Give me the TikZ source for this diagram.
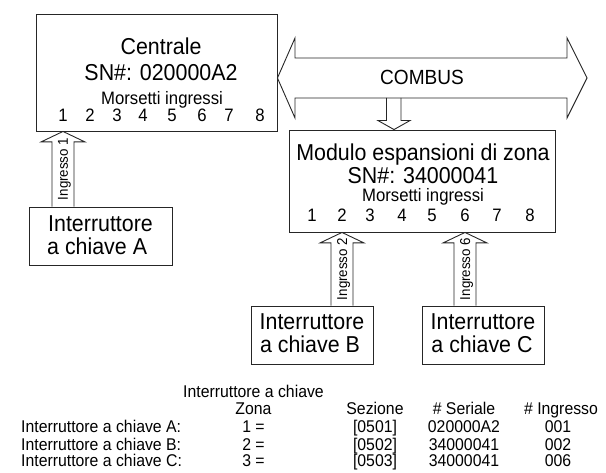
\documentclass[tikz,border=0pt]{standalone}
\usepackage{fontspec}
\setmainfont[FakeStretch=0.93]{Liberation Sans}
\usetikzlibrary{calc}
\newcommand\FBig{\fontsize{23}{25}\selectfont}
\newcommand\FBus{\fontsize{20.5}{22}\selectfont}
\newcommand\FMor{\fontsize{18}{20}\selectfont}
\newcommand\FIng{\fontsize{14.3}{16}\selectfont}
\newcommand\FTab{\fontsize{17}{19}\selectfont}
\newcommand\InArrow[2]{\draw[blk] let \p1=(#1), \p2=(#2) in
  (\x1-11pt,\y2) -- (\x1-11pt,\y1-10.5pt) -- (\x1-22pt,\y1-10.5pt) -- (\x1,\y1)
  -- (\x1+22pt,\y1-10.5pt) -- (\x1+11pt,\y1-10.5pt) -- (\x1+11pt,\y2);}
\begin{document}
\begin{tikzpicture}[x=1pt,y=-1pt,
  box/.style={draw=black!85, line width=0.9pt, rectangle, inner sep=0pt},
  blk/.style={draw=black!85, line width=0.9pt, line join=miter},
  txt/.style={anchor=base, inner sep=0pt, text=black},
  txtw/.style={anchor=base west, inner sep=0pt, text=black}]
\useasboundingbox (0,0) rectangle (606,473);

% boxes
\node[box, minimum width=241pt, minimum height=117pt] (cen) at (156.5,72.5) {};
\node[box, minimum width=266pt, minimum height=102pt] (mod) at (422,181) {};
\node[box, minimum width=143pt, minimum height=58pt] (kA) at (100.5,236) {};
\node[box, minimum width=122pt, minimum height=58pt] (kB) at (312,335) {};
\node[box, minimum width=122pt, minimum height=58pt] (kC) at (483,335) {};

% Centrale text
\node[txt,font=\FBig] (cen1) at (161,55) {Centrale};
\node[txt,font=\FBig] (cen2) at (161,81) {SN\#: 020000A2};
\node[txt,font=\FMor] (cen3) at (162,105) {Morsetti ingressi};
\foreach \x [count=\i] in {63,90,117,143,172,202,229,260}
  \node[txt,font=\FMor] (c\i) at (\x,122) {\i};

% Modulo text
\node[txt,font=\FBig] (mod1) at (423,161) {Modulo espansioni di zona};
\node[txt,font=\FBig] (mod2) at (423,184) {SN\#: 34000041};
\node[txt,font=\FMor] (mod3) at (423,202) {Morsetti ingressi};
\foreach \x [count=\i] in {312,342,370,402,432,465,497,530}
  \node[txt,font=\FMor] (m\i) at (\x,222) {\i};

% key switch texts
\node[txtw,font=\FBig] (kA1) at (48,232) {Interruttore};
\node[txtw,font=\FBig] (kA2) at (47,255) {a chiave A};
\node[txt,font=\FBig] (kB1) at (312,330) {Interruttore};
\node[txt,font=\FBig] (kB2) at (310,353) {a chiave B};
\node[txt,font=\FBig] (kC1) at (483,330) {Interruttore};
\node[txt,font=\FBig] (kC2) at (482,353) {a chiave C};

% input arrows
\coordinate (a1t) at (c1 |- cen.south);
\coordinate (a1b) at (c1 |- kA.north);
\coordinate (a2t) at (m2 |- mod.south);
\coordinate (a2b) at (m2 |- kB.north);
\coordinate (a6t) at (m6 |- mod.south);
\coordinate (a6b) at (m6 |- kC.north);
\InArrow{a1t}{a1b}
\InArrow{a2t}{a2b}
\InArrow{a6t}{a6b}
\node[rotate=90,font=\FIng,inner sep=0pt,text=black] (g1) at ($(a1t)!0.5!(a1b)+(1.5,0)$) {Ingresso 1};
\node[rotate=90,font=\FIng,inner sep=0pt,text=black] (g2) at ($(a2t)!0.5!(a2b)+(1.5,0)$) {Ingresso 2};
\node[rotate=90,font=\FIng,inner sep=0pt,text=black] (g6) at ($(a6t)!0.5!(a6b)+(1.5,0)$) {Ingresso 6};

% COMBUS double arrow
\coordinate (ymid) at (0,78);
\coordinate (busL) at (cen.east |- ymid);
\coordinate (busR) at (587,78);
\draw[blk] (busL) -- (295,38) -- (295,58) -- (567,58) -- (567,38) -- (busR)
  -- (567,118) -- (567,98) -- (295,98) -- (295,118) -- cycle;
\node[txt,font=\FBus] (bus) at (422,85) {COMBUS};

% COMBUS to module
\coordinate (db) at (394,98);
\coordinate (dt) at (db |- mod.north);
\draw[blk] let \p1=(dt), \p2=(db) in
  (\x1-7.5pt,\y2) -- (\x1-7.5pt,\y1+9pt) -- (\x1-16pt,\y1+9pt) -- (\x1,\y1)
  -- (\x1+16pt,\y1+9pt) -- (\x1+7pt,\y1+9pt) -- (\x1+7pt,\y2);

% table
\node[txtw,font=\FTab] (th0) at (183,398) {Interruttore a chiave};
\node[txt,font=\FTab] (th1) at (253.5,415) {Zona};
\node[txt,font=\FTab] (th2) at (375,415) {Sezione};
\node[txt,font=\FTab] (th3) at (464,415) {\# Seriale};
\node[txt,font=\FTab] (th4) at (561,415) {\# Ingresso};
\foreach \y/\k/\z/\s/\n/\g [count=\r] in
  {433/A/1/0501/020000A2/001, 450/B/2/0502/34000041/002, 467/C/3/0503/34000041/006}{
  \node[txtw,font=\FTab] (r\r l) at (21,\y) {Interruttore a chiave \k:};
  \node[txt,font=\FTab] (r\r z) at (253.5,\y) {\z\ =};
  \node[txt,font=\FTab] (r\r s) at (375,\y) {[\s]};
  \node[txt,font=\FTab] (r\r n) at (464,\y) {\n};
  \node[txt,font=\FTab] (r\r g) at (558,\y) {\g};
}
\end{tikzpicture}
\end{document}
